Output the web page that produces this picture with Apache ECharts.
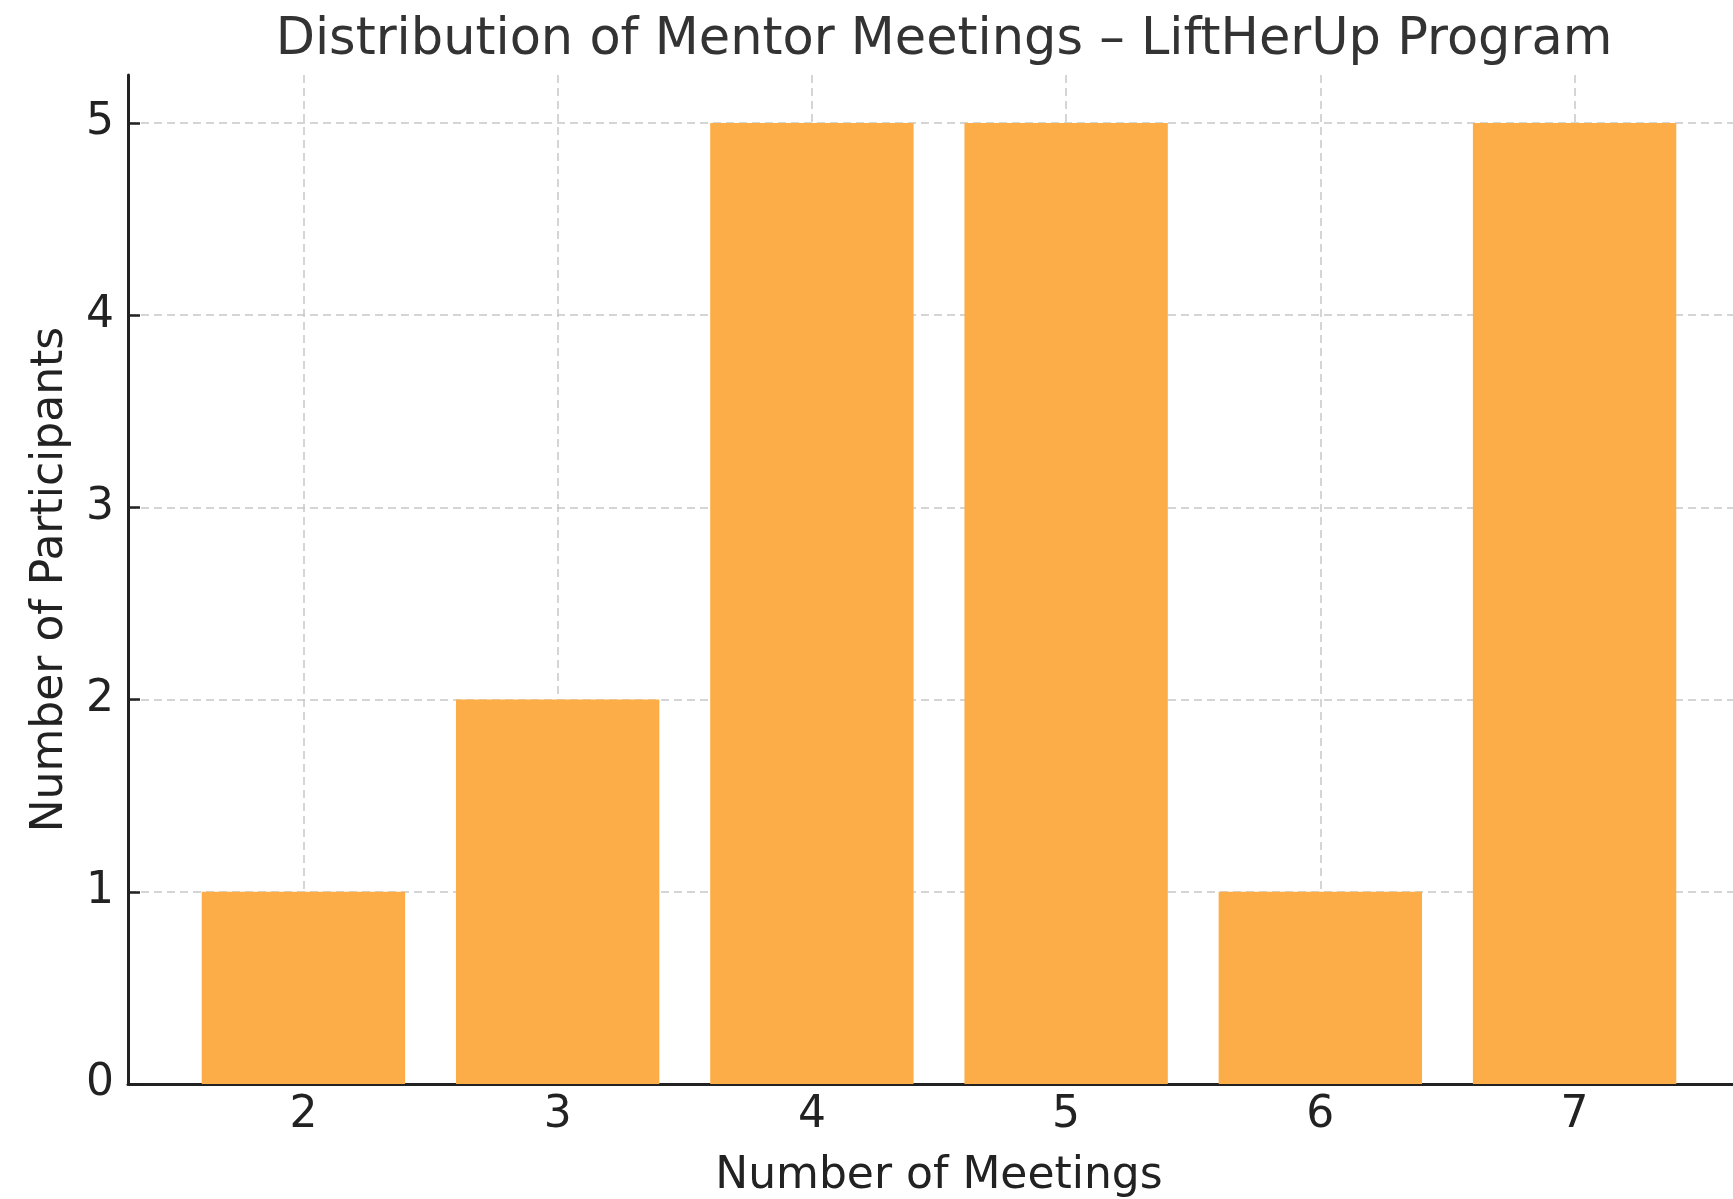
<!DOCTYPE html>
<html>
<head>
<meta charset="utf-8">
<script src="https://cdn.jsdelivr.net/npm/echarts@6/dist/echarts.min.js"></script>
<style>
  html, body { margin: 0; padding: 0; background: #fff; }
  #chart { width: 1733px; height: 1199px; }
</style>
</head>
<body>
<div id="chart"></div>
<script>
const meetings = [2, 3, 4, 5, 6, 7];
const participants = [1, 2, 5, 5, 1, 5];
const yTicks = [0, 1, 2, 3, 4, 5];

// matplotlib-like limits (5% margin around bars)
const xMin = 1.31, xMax = 7.69;
const yMin = 0, yMax = 5.25;

// plot area runs past the right edge of the canvas, like the source image
const pad = { left: 128, top: 75, bottom: 115, width: 1622 };
const fontFamily = "DejaVu Sans";

const chart = echarts.init(document.getElementById("chart"), null, { renderer: "canvas" });
const barW = 0.8 * pad.width / (xMax - xMin);

const dashed = { show: true, lineStyle: { color: "#c8c8c8", type: [8, 5], width: 1.5 } };

chart.setOption({
    animation: false,
    title: {
        text: "Distribution of Mentor Meetings \u2013 LiftHerUp Program",
        left: pad.left + pad.width / 2,
        textAlign: "center",
        top: 10,
        textStyle: { fontFamily: fontFamily, fontSize: 51, fontWeight: "normal", color: "#333" }
    },
    grid: Object.assign({ outerBoundsMode: "none", containLabel: false }, pad),
    xAxis: {
        type: "value",
        min: xMin,
        max: xMax,
        name: "Number of Meetings",
        nameLocation: "middle",
        nameGap: 71,
        nameTextStyle: { fontFamily: fontFamily, fontSize: 44, color: "#222" },
        axisLine: { show: true, lineStyle: { color: "#222", width: 3 } },
        axisTick: { show: true, inside: true, length: 12, customValues: meetings, lineStyle: { color: "#222", width: 2.5 } },
        axisLabel: { customValues: meetings, margin: 10, fontFamily: fontFamily, fontSize: 44, color: "#222" },
        splitLine: dashed
    },
    yAxis: {
        type: "value",
        min: yMin,
        max: yMax,
        name: "Number of Participants",
        nameLocation: "middle",
        nameGap: 55,
        nameTextStyle: { fontFamily: fontFamily, fontSize: 44, color: "#222" },
        axisLine: { show: true, lineStyle: { color: "#222", width: 3 } },
        axisTick: { show: true, inside: true, length: 12, customValues: yTicks, lineStyle: { color: "#222", width: 2.5 } },
        axisLabel: { customValues: yTicks, margin: 14, fontFamily: fontFamily, fontSize: 44, color: "#222" },
        splitLine: dashed
    },
    series: [{
        type: "bar",
        data: meetings.map((m, i) => [m, participants[i]]),
        barWidth: barW,
        itemStyle: { color: "#fcad47" },
        z: 1
    }]
});
</script>
</body>
</html>
